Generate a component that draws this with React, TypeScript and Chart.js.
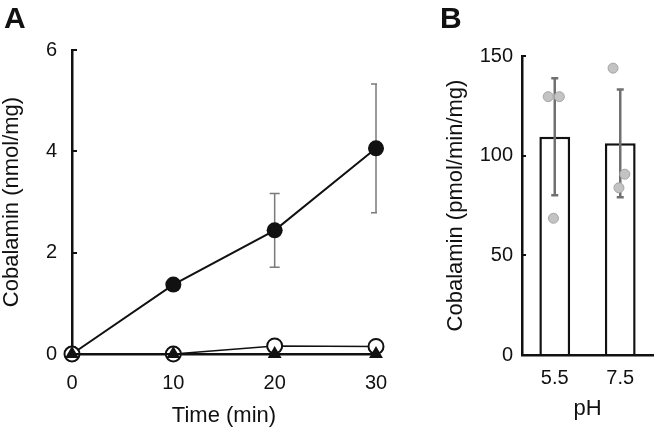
import React, { useEffect, useRef } from "react";
import { Chart, registerables } from "chart.js";

Chart.register(...registerables);

const FONT = "'Liberation Sans', Arial, Helvetica, sans-serif";
const INK = "#111111";

// ---------- Panel A data ----------
const timePoints = [0, 10, 20, 30];
const filledValues = [0, 1.37, 2.44, 4.06];
const filledErrors = [0, 0.06, 0.73, 1.27];
const openValues = [0, 0, 0.16, 0.15];
const triangleValues = [0, 0, 0, 0];
const xTicksA = [0, 10, 20, 30];
const yTicksA = [0, 2, 4, 6];

// ---------- Panel B data ----------
const phLabels = ["5.5", "7.5"];
const barMeans = [109.5, 106.2];
const barErrors = [29.3, 27.0];
const replicates55 = [129.6, 129.6, 68.6];
const replicates75 = [143.9, 90.7, 83.9];
const jitter55 = [-0.1, 0.07, -0.02];
const jitter75 = [-0.11, 0.07, -0.02];
const yTicksB = [0, 50, 100, 150];

const tickFont = { family: FONT, size: 20 };
const titleFont = { family: FONT, size: 22, lineHeight: 1.1 };

const errorBarsA = {
  id: "errorBarsA",
  beforeDatasetsDraw(chart: any) {
    const { ctx, chartArea } = chart;
    const x = chart.scales.x;
    const y = chart.scales.y;
    ctx.save();
    ctx.beginPath();
    ctx.rect(chartArea.left - 1, 0, chartArea.right - chartArea.left + 2, chart.height);
    ctx.clip();
    ctx.strokeStyle = "#7a7a7a";
    ctx.lineWidth = 1.5;
    timePoints.forEach((t, i) => {
      const e = filledErrors[i];
      if (!e) return;
      const px = x.getPixelForValue(t);
      const top = y.getPixelForValue(filledValues[i] + e);
      const bot = y.getPixelForValue(filledValues[i] - e);
      ctx.beginPath();
      ctx.moveTo(px, top);
      ctx.lineTo(px, bot);
      ctx.moveTo(px - 5, top);
      ctx.lineTo(px + 5, top);
      ctx.moveTo(px - 5, bot);
      ctx.lineTo(px + 5, bot);
      ctx.stroke();
    });
    ctx.restore();
  },
};

const errorBarsB = {
  id: "errorBarsB",
  afterDatasetDraw(chart: any, args: any) {
    if (args.index !== 0) return;
    const { ctx } = chart;
    const x = chart.scales.x;
    const y = chart.scales.y;
    ctx.save();
    ctx.strokeStyle = "#707070";
    ctx.lineWidth = 2.5;
    barMeans.forEach((m, i) => {
      const px = x.getPixelForValue(i);
      const top = y.getPixelForValue(m + barErrors[i]);
      const bot = y.getPixelForValue(m - barErrors[i]);
      ctx.beginPath();
      ctx.moveTo(px, top);
      ctx.lineTo(px, bot);
      ctx.moveTo(px - 3.5, top);
      ctx.lineTo(px + 3.5, top);
      ctx.moveTo(px - 3.5, bot);
      ctx.lineTo(px + 3.5, bot);
      ctx.stroke();
    });
    ctx.restore();
  },
};

function PanelA() {
  const ref = useRef<HTMLCanvasElement>(null);
  useEffect(() => {
    if (!ref.current) return;
    const chart = new Chart(ref.current, {
      type: "line",
      data: {
        datasets: [
          {
            data: timePoints.map((t, i) => ({ x: t, y: filledValues[i] })),
            borderColor: INK,
            borderWidth: 2,
            pointRadius: 8,
            pointBackgroundColor: INK,
            pointBorderColor: INK,
            pointBorderWidth: 0,
            clip: false,
            order: 2,
          },
          {
            data: timePoints.map((t, i) => ({ x: t, y: openValues[i] })),
            borderColor: INK,
            borderWidth: 1.5,
            pointRadius: 7.5,
            pointBackgroundColor: "#ffffff",
            pointBorderColor: INK,
            pointBorderWidth: 2,
            clip: false,
            order: 1,
          },
          {
            data: timePoints.map((t, i) => ({ x: t, y: triangleValues[i] })),
            borderColor: INK,
            borderWidth: 2,
            pointStyle: "triangle",
            pointRadius: 8,
            pointBackgroundColor: INK,
            pointBorderColor: INK,
            pointBorderWidth: 0,
            clip: false,
            order: 0,
          },
        ],
      } as any,
      options: {
        animation: false,
        responsive: false,
        maintainAspectRatio: false,
        devicePixelRatio: 1,
        layout: { padding: { top: 50, right: 24, bottom: 0, left: 0 } },
        plugins: { legend: { display: false }, tooltip: { enabled: false } },
        scales: {
          x: {
            type: "linear",
            min: 0,
            max: 30,
            afterBuildTicks: (s: any) => {
              s.ticks = xTicksA.map((v) => ({ value: v }));
            },
            afterFit: (s: any) => {
              s.height = 79;
            },
            grid: {
              drawOnChartArea: false,
              drawTicks: true,
              tickLength: 14,
              tickColor: "rgba(0,0,0,0)",
            },
            border: { display: true, color: INK, width: 2.5 },
            ticks: { padding: 3, color: INK, font: tickFont },
            title: {
              display: true,
              text: "Time (min)",
              color: INK,
              font: titleFont,
              padding: { top: 0, bottom: 5 },
            },
          },
          y: {
            type: "linear",
            min: 0,
            max: 6,
            afterBuildTicks: (s: any) => {
              s.ticks = yTicksA.map((v) => ({ value: v }));
            },
            afterFit: (s: any) => {
              s.width = 72;
            },
            grid: {
              drawOnChartArea: false,
              drawTicks: true,
              tickLength: -5,
              color: INK,
              lineWidth: 2,
            },
            border: { display: true, color: INK, width: 2.5 },
            ticks: { padding: 20, color: INK, font: tickFont },
            title: {
              display: true,
              text: "Cobalamin (nmol/mg)",
              color: INK,
              font: titleFont,
              padding: { top: 0, bottom: 0 },
            },
          },
        },
      } as any,
      plugins: [errorBarsA],
    });
    return () => chart.destroy();
  }, []);
  return (
    <canvas
      ref={ref}
      width={400}
      height={433}
      style={{ position: "absolute", left: 0, top: 0, width: 400, height: 433, display: "block" }}
    />
  );
}

function PanelB() {
  const ref = useRef<HTMLCanvasElement>(null);
  useEffect(() => {
    if (!ref.current) return;
    const pointStyle = {
      type: "scatter",
      xAxisID: "xj",
      pointRadius: 5,
      pointBackgroundColor: "#c3c3c3",
      pointBorderColor: "#a5a5a5",
      pointBorderWidth: 1,
      order: 1,
      clip: false,
    };
    const chart = new Chart(ref.current, {
      type: "bar",
      data: {
        labels: phLabels,
        datasets: [
          {
            type: "bar",
            data: barMeans,
            backgroundColor: "#ffffff",
            borderColor: INK,
            borderWidth: 2.5,
            barPercentage: 0.47,
            categoryPercentage: 1,
            grouped: false,
            xAxisID: "x",
            order: 2,
          },
          {
            ...pointStyle,
            data: replicates55.map((v, i) => ({ x: 0 + jitter55[i], y: v })),
          },
          {
            ...pointStyle,
            data: replicates75.map((v, i) => ({ x: 1 + jitter75[i], y: v })),
          },
        ],
      } as any,
      options: {
        animation: false,
        responsive: false,
        maintainAspectRatio: false,
        devicePixelRatio: 1,
        layout: { padding: { top: 56, right: 13, bottom: 0, left: 0 } },
        plugins: { legend: { display: false }, tooltip: { enabled: false } },
        scales: {
          x: {
            type: "category",
            offset: true,
            afterFit: (s: any) => {
              s.height = 78;
            },
            grid: {
              drawOnChartArea: false,
              drawTicks: true,
              tickLength: 8,
              tickColor: "rgba(0,0,0,0)",
            },
            border: { display: true, color: INK, width: 2.5 },
            ticks: { padding: 3, color: INK, font: tickFont },
            title: {
              display: true,
              text: "pH",
              color: INK,
              font: titleFont,
              padding: { top: 0, bottom: 12 },
            },
          },
          xj: {
            type: "linear",
            display: false,
            offset: false,
            grid: { offset: false },
            min: -0.5,
            max: 1.5,
          },
          y: {
            type: "linear",
            min: 0,
            max: 150,
            afterBuildTicks: (s: any) => {
              s.ticks = yTicksB.map((v) => ({ value: v }));
            },
            afterFit: (s: any) => {
              s.width = 122;
            },
            grid: {
              drawOnChartArea: false,
              drawTicks: true,
              tickLength: -4,
              color: INK,
              lineWidth: 2,
            },
            border: { display: true, color: INK, width: 2.5 },
            ticks: { padding: 13, color: INK, font: tickFont },
            title: {
              display: true,
              text: "Cobalamin (pmol/min/mg)",
              color: INK,
              font: titleFont,
              padding: { top: 44, bottom: 0 },
            },
          },
        },
      } as any,
      plugins: [errorBarsB],
    });
    return () => chart.destroy();
  }, []);
  return (
    <canvas
      ref={ref}
      width={266}
      height={433}
      style={{ position: "absolute", left: 400, top: 0, width: 266, height: 433, display: "block" }}
    />
  );
}

const letterStyle: React.CSSProperties = {
  position: "absolute",
  top: 3,
  fontFamily: FONT,
  fontWeight: "bold",
  fontSize: 30,
  lineHeight: 1,
  color: INK,
};

export default function App() {
  return (
    <div
      style={{
        position: "absolute",
        left: 0,
        top: 0,
        width: 666,
        height: 433,
        background: "#ffffff",
        overflow: "hidden",
      }}
    >
      <PanelA />
      <PanelB />
      <div style={{ ...letterStyle, left: 4 }}>A</div>
      <div style={{ ...letterStyle, left: 440 }}>B</div>
    </div>
  );
}
